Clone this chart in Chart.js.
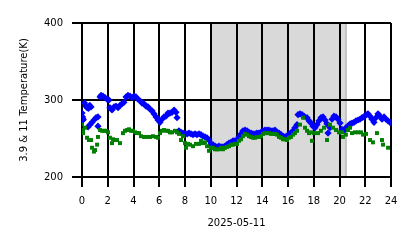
<!DOCTYPE html>
<html>
<head>
<meta charset="utf-8">
<script src="https://cdn.jsdelivr.net/npm/chart.js@4/dist/chart.umd.min.js"></script>
<style>
  html, body { margin: 0; padding: 0; background: #fff; }
  #wrap { width: 418px; height: 248px; }
</style>
</head>
<body>
<div id="wrap"><canvas id="grafico"></canvas></div>
<script>
// Dados (hora do dia, temperatura em K)
const horasAzul = [0.0, 0.05, 0.1, 0.08, 0.2, 0.3, 0.4, 0.5, 0.6, 0.7,
  0.47, 0.62, 0.78, 0.93, 1.09, 1.24, 1.24,
  1.4, 1.48, 1.63, 1.79, 1.94, 2.1,
  2.17, 2.33, 2.49, 2.64, 2.8, 2.95, 3.1, 3.26,
  3.42, 3.57, 3.73, 3.88, 4.04, 4.19, 4.35,
  4.5, 4.66, 4.82, 4.97, 5.13, 5.28, 5.44, 5.59, 5.75, 5.9, 6.06,
  6.21, 6.37, 6.52, 6.68, 6.83, 6.99, 7.15, 7.3, 7.38,
  7.53, 7.69, 7.84, 8.0, 8.16, 8.31, 8.47, 8.62,
  8.78, 8.93, 9.09, 9.24, 9.4, 9.55, 9.71, 9.86,
  10.02, 10.17, 10.33, 10.49, 10.64, 10.8, 10.95, 11.11, 11.26,
  11.42, 11.57, 11.73, 11.88, 12.04, 12.19, 12.35, 12.5, 12.66,
  12.82, 12.97, 13.13, 13.28, 13.44, 13.59, 13.75, 13.9,
  14.06, 14.21, 14.37, 14.52, 14.68, 14.83, 14.99, 15.15,
  15.3, 15.46, 15.61, 15.77, 15.92, 16.08, 16.23, 16.39, 16.54, 16.7,
  16.78, 16.93, 17.09, 17.24, 17.48, 17.63, 17.79, 17.94, 18.1, 18.25, 18.41,
  18.56, 18.72, 18.87, 19.03, 19.11, 19.26, 19.42, 19.57, 19.73, 19.88,
  20.04, 20.19, 20.35, 20.5, 20.66, 20.82, 20.97, 21.13, 21.28, 21.44,
  21.59, 21.75, 21.9, 22.06, 22.21, 22.37, 22.52, 22.68, 22.83, 22.99,
  23.15, 23.3, 23.46, 23.61, 23.77, 23.92];
const tempAzul = [283, 278, 275, 274, 296, 292, 290, 289, 293, 291,
  265, 268, 271, 274, 277, 278, 266,
  304, 306, 305, 303, 301, 300,
  290, 287, 291, 292, 290, 293, 295, 297,
  304, 306, 305, 303, 305, 304, 301,
  299, 296, 295, 292, 291, 288, 286, 282, 278, 274, 271,
  275, 278, 279, 283, 283, 284, 287, 284, 277,
  260, 258, 257, 256, 256, 257, 256, 255,
  256, 255, 256, 255, 253, 252, 251, 248,
  243, 242, 240, 239, 240, 239, 239, 240, 242,
  244, 245, 247, 247, 248, 252, 256, 260, 261,
  260, 258, 257, 256, 256, 257, 257, 258,
  260, 261, 261, 261, 260, 260, 261, 258,
  257, 255, 253, 252, 253, 256, 257, 260, 264, 268,
  281, 282, 281, 279, 277, 273, 270, 266, 264, 268, 273,
  277, 278, 274, 269, 257, 264, 275, 279, 278, 275,
  270, 262, 260, 264, 266, 269, 270, 271, 273, 274,
  275, 277, 278, 281, 282, 279, 275, 271, 277, 282,
  279, 275, 278, 275, 273, 271];

const horasVerde = [0.0, 0.08, 0.23, 0.08, 0.39, 0.54, 0.7, 0.78, 1.01, 0.93, 1.17, 1.24,
  1.4, 1.55, 1.71, 1.86, 2.02, 2.17, 2.33, 2.41, 2.56, 2.72, 2.95,
  3.18, 3.34, 3.5, 3.65, 3.81, 3.96, 4.12, 4.27, 4.43, 4.58, 4.82, 5.05,
  5.28, 5.51, 5.75, 5.9, 6.06, 6.21, 6.37, 6.52, 6.68, 6.83, 6.99, 7.22,
  7.38, 7.53, 7.69, 7.84, 8.0, 8.08, 8.23, 8.39, 8.62, 8.85, 9.09, 9.24,
  9.4, 9.55, 9.71, 9.86, 10.02, 10.17, 10.33, 10.49, 10.64, 10.8, 10.95,
  11.11, 11.26, 11.42, 11.57, 11.73, 11.88, 12.04, 12.19, 12.35, 12.5,
  12.66, 12.82, 12.97, 13.13, 13.28, 13.44, 13.59, 13.75, 13.9, 14.06,
  14.21, 14.37, 14.52, 14.68, 14.83, 14.99, 15.15, 15.3, 15.46, 15.61,
  15.77, 15.92, 16.08, 16.23, 16.39, 16.54, 16.7, 16.93, 17.17, 17.32,
  17.48, 17.63, 17.79, 17.86, 18.02, 18.33, 18.56, 18.8, 19.03, 19.26,
  19.5, 19.73, 19.96, 20.19, 20.27, 20.5, 20.66, 20.82, 20.97, 21.2,
  21.44, 21.67, 21.83, 22.06, 22.37, 22.6, 22.91, 23.3, 23.38, 23.77];
const tempVerde = [268, 261, 264, 257, 251, 248, 248, 238, 235, 233, 242, 252,
  261, 260, 260, 260, 258, 251, 244, 249, 248, 248, 244,
  257, 260, 261, 262, 260, 260, 258, 257, 257, 253, 252, 252,
  252, 253, 252, 251, 257, 260, 261, 260, 260, 258, 258, 260,
  258, 256, 248, 253, 244, 238, 243, 242, 240, 243, 243, 247,
  244, 245, 240, 234, 238, 238, 236, 236, 236, 238, 236,
  238, 239, 240, 242, 242, 243, 243, 247, 249, 253,
  256, 255, 253, 252, 251, 251, 252, 252, 253, 256,
  257, 257, 257, 256, 256, 256, 255, 252, 251, 249,
  249, 248, 251, 252, 255, 257, 260, 268, 277, 264,
  260, 257, 258, 247, 257, 257, 260, 264, 248, 268,
  264, 261, 258, 258, 252, 255, 261, 264, 257, 258,
  258, 258, 255, 256, 248, 245, 257, 248, 242, 238];

const marcasX = [0, 2, 4, 6, 8, 10, 12, 14, 16, 18, 20, 22, 24];
const faixaNoite = [10, 20.5];

const pontos = (xs, ys) => xs.map((x, i) => ({ x: x, y: ys[i] }));

// Faixa cinza desenhada antes da grade
const pluginFaixa = {
  id: 'faixa',
  beforeDraw(chart) {
    const { ctx, chartArea, scales } = chart;
    const x0 = scales.x.getPixelForValue(faixaNoite[0]);
    const x1 = scales.x.getPixelForValue(faixaNoite[1]);
    ctx.save();
    ctx.fillStyle = '#d9d9d9';
    ctx.fillRect(x0, chartArea.top, x1 - x0, chartArea.bottom - chartArea.top);
    ctx.fillStyle = '#c4c4c4';
    ctx.fillRect(x1 - 1, chartArea.top, 2, chartArea.bottom - chartArea.top);
    ctx.restore();
  }
};

Chart.defaults.font.family = 'DejaVu Sans';
Chart.defaults.font.size = 10;
Chart.defaults.color = '#000';

const contexto = document.getElementById('grafico').getContext('2d');

new Chart(contexto, {
  type: 'scatter',
  data: { datasets: [
    {
      label: '11',
      data: pontos(horasVerde, tempVerde),
      pointStyle: 'rect',
      pointRadius: 2.8,
      backgroundColor: '#008000',
      borderWidth: 0,
      order: 0
    },
    {
      label: '3.9',
      data: pontos(horasAzul, tempAzul),
      pointStyle: 'rectRot',
      pointRadius: 3.6,
      backgroundColor: '#0000ff',
      borderWidth: 0,
      order: 1
    }
  ]},
  options: {
    responsive: true,
    maintainAspectRatio: false,
    animation: false,
    events: [],
    layout: { padding: { left: 0, top: 23, right: 27, bottom: 0 } },
    plugins: { legend: { display: false }, tooltip: { enabled: false } },
    scales: {
      x: {
        type: 'linear', min: 0, max: 24,
        afterFit: s => { s.height = 71; },
        afterBuildTicks: s => { s.ticks = marcasX.map(v => ({ value: v })); },
        grid: { color: '#000', lineWidth: 2, tickLength: 10, tickColor: '#000', tickWidth: 2 },
        border: { color: '#000', width: 2 },
        ticks: { padding: 8, maxRotation: 0, autoSkip: false },
        title: { display: true, text: '2025-05-11', padding: { top: 0, bottom: 19 } }
      },
      y: {
        min: 200, max: 400,
        afterFit: s => { s.width = 82; },
        ticks: { stepSize: 100, padding: 9 },
        grid: { color: '#000', lineWidth: 2, tickLength: 10, tickColor: '#000', tickWidth: 2 },
        border: { color: '#000', width: 2 },
        title: { display: true, text: '3.9 & 11 Temperature(K)', padding: { top: 18, bottom: 0 } }
      }
    }
  },
  plugins: [pluginFaixa]
});
</script>
</body>
</html>
